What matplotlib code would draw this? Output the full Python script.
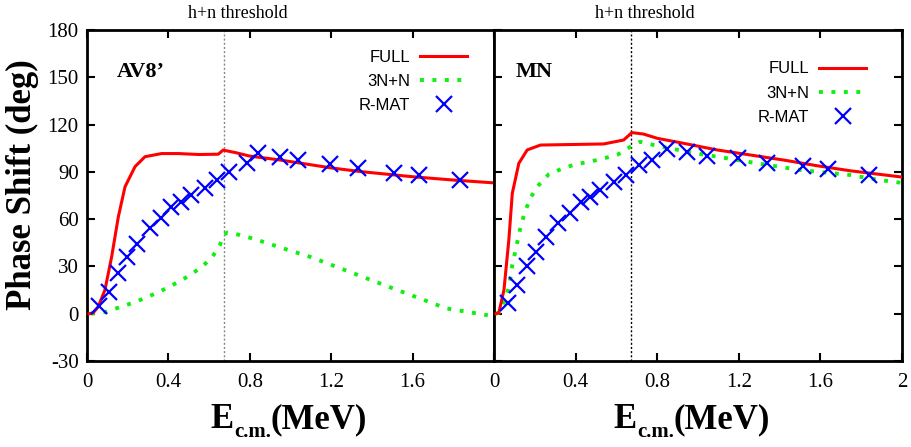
import matplotlib
matplotlib.use("Agg")
import matplotlib.pyplot as plt
from matplotlib.transforms import blended_transform_factory

plt.rcParams["font.family"] = "Liberation Serif"
plt.rcParams["axes.unicode_minus"] = False

# h+n threshold energy (MeV)
threshold = 0.672

# --- AV8' panel ---
av8_full_x = [0.01, 0.03, 0.055, 0.088, 0.121, 0.154, 0.187, 0.236, 0.285, 0.366, 0.45, 0.55,
              0.645, 0.669, 0.73, 0.8, 0.95, 1.2, 1.35, 1.6, 1.8, 2.0]
av8_full_y = [0, 0.5, 4.4, 15, 36, 61.5, 80.6, 93.3, 99.6, 101.6, 101.6, 101, 101.2, 103.8,
              102.2, 100, 97.5, 92.5, 90.1, 86.9, 84.8, 83]
av8_3n_x = [0.02, 0.097, 0.167, 0.232, 0.301, 0.366, 0.429, 0.494, 0.555, 0.612, 0.653, 0.672,
            0.69, 0.75, 0.82, 0.963, 1.094, 1.225, 1.373, 1.503, 1.634, 1.765, 1.97]
av8_3n_y = [0, 1.3, 4.4, 7.2, 10.8, 14.6, 18.8, 23.5, 28.8, 35.2, 43.6, 50, 51.5, 50, 47.5,
            41.5, 36.2, 29.8, 22.5, 16.1, 9.8, 3.4, -1]
av8_rmat_x = [0.059, 0.108, 0.154, 0.195, 0.244, 0.309, 0.363, 0.415, 0.464, 0.51, 0.579, 0.641,
              0.70, 0.784, 0.841, 0.947, 1.037, 1.192, 1.331, 1.511, 1.634, 1.835]
av8_rmat_y = [5.1, 14, 26, 35.8, 44.2, 54.2, 60.5, 67.9, 71.1, 75.3, 79.6, 84.8, 90.1, 95.4,
              101.8, 99.6, 97.5, 95, 92.3, 89.5, 88, 84.8]

# --- MN panel ---
mn_full_x = [0.01, 0.024, 0.049, 0.073, 0.09, 0.122, 0.163, 0.228, 0.538, 0.636, 0.676, 0.733,
             0.8, 0.93, 1.094, 1.257, 1.42, 1.583, 1.746, 2.0]
mn_full_y = [0, 0.6, 15, 46.8, 76.4, 95.4, 103.9, 107, 107.7, 110.2, 114.9, 114, 111.3, 108.1,
             103.9, 100.7, 97.5, 93.9, 90.7, 86.7]
mn_3n_x = [0.01, 0.024, 0.06, 0.078, 0.09, 0.109, 0.127, 0.147, 0.176, 0.212, 0.269, 0.334, 0.4,
           0.468, 0.535, 0.606, 0.665, 0.717, 0.8, 0.9, 0.988, 1.143, 1.338, 1.501, 1.746,
           1.892, 2.0]
mn_3n_y = [0, 0.6, 10, 20.3, 30.9, 42.1, 53.1, 62.6, 72.8, 80.6, 88.5, 92, 94.8, 96.4, 98.4,
           100.9, 105.6, 109.1, 106.5, 104, 101.8, 98.6, 94.4, 91.2, 88, 84.8, 83]
mn_rmat_x = [0.068, 0.114, 0.16, 0.204, 0.253, 0.313, 0.372, 0.427, 0.473, 0.518, 0.587, 0.649,
             0.709, 0.776, 0.846, 0.947, 1.045, 1.195, 1.338, 1.514, 1.64, 1.84]
mn_rmat_y = [7, 18.2, 30.3, 39.3, 48.5, 57.4, 63.7, 71.1, 74.2, 78.5, 83.8, 88, 94.4, 97.5,
             104.3, 102.8, 100.3, 98.6, 95.4, 93.7, 91.6, 88]

x_ticks = [0, 0.4, 0.8, 1.2, 1.6, 2.0]
y_ticks = [-30, 0, 30, 60, 90, 120, 150, 180]


def xlabel_parts(fig, xc_px, base_px, parts):
    # parts: (text, fontsize, baseline shift in px); placed side by side, centred on xc_px
    renderer = fig.canvas.get_renderer()
    W, H = fig.bbox.width, fig.bbox.height
    texts, widths = [], []
    for s, size, dy in parts:
        t = fig.text(0, 0, s, fontsize=size, fontweight="bold", ha="left", va="baseline")
        widths.append(t.get_window_extent(renderer).width)
        texts.append((t, dy))
    x = xc_px - sum(widths) / 2
    for (t, dy), w in zip(texts, widths):
        t.set_position((x / W, 1 - (base_px + dy) / H))
        x += w


fig = plt.figure(figsize=(9.11, 4.47), dpi=100)
ax1 = fig.add_axes([0.0955, 0.1924, 0.4467, 0.7405])
ax2 = fig.add_axes([0.5422, 0.1924, 0.4478, 0.7405])

panels = [
    (ax1, "AV8\u2019", 0.074, av8_full_x, av8_full_y, av8_3n_x, av8_3n_y, av8_rmat_x,
     av8_rmat_y, (0.934, 0.94), "#888888"),
    (ax2, "MN", 0.054, mn_full_x, mn_full_y, mn_3n_x, mn_3n_y, mn_rmat_x, mn_rmat_y,
     (0.912, 0.905), "black"),
]

for ax, name, name_x, fx, fy, gx, gy, rx, ry, leg_pos, th_color in panels:
    ax.plot(fx, fy, color="#ff0000", lw=2.2, label="FULL", zorder=3)
    ax.plot(gx, gy, color="#11ee11", lw=2.8, linestyle=(0, (1, 2.2)), label="3N+N", zorder=2)
    ax.plot(rx, ry, linestyle="none", marker="x", ms=11, mew=1.6, color="#0000ff",
            label="R-MAT", zorder=4)
    ax.axvline(threshold, color=th_color, lw=1, linestyle=(0, (1.5, 1.5)), zorder=1)

    trans = blended_transform_factory(ax.transData, ax.transAxes)
    ax.text(threshold + 0.07, 1.036, "h+n threshold", transform=trans, ha="center",
            va="baseline", fontsize=13)
    ax.text(name_x, 0.873, name, transform=ax.transAxes, fontsize=16, fontweight="bold",
            va="center", ha="left")

    ax.set_xlim(0, 2)
    ax.set_ylim(-30, 180)
    ax.set_xticks(x_ticks)
    ax.set_yticks(y_ticks)
    for s in ax.spines.values():
        s.set_linewidth(2)
    ax.tick_params(direction="in", length=6, width=1.5, labelsize=15, top=True, pad=9)

    ax.legend(loc="upper right", bbox_to_anchor=leg_pos, frameon=False, markerfirst=False,
              handlelength=2.8, handletextpad=0.6, labelspacing=0.55, borderpad=0,
              borderaxespad=0, numpoints=1, prop={"family": "Liberation Sans", "size": 12})

ax1.set_xticklabels(["0", "0.4", "0.8", "1.2", "1.6", ""])
ax1.tick_params(axis="y", right=False, pad=6)
ax2.set_xticklabels(["0", "0.4", "0.8", "1.2", "1.6", "2"])
ax2.tick_params(axis="y", left=True, right=True, labelleft=False)

fig.text(0.025, 0.586, "Phase Shift (deg)", rotation=90, ha="center", va="center",
         fontsize=25, fontweight="bold")

label_parts = [("E", 25, 0), ("c.m.", 15, 9), ("(MeV)", 25, 0)]
xlabel_parts(fig, 289, 428, label_parts)
xlabel_parts(fig, 692, 428, label_parts)

fig.savefig("out.png", dpi=100)
